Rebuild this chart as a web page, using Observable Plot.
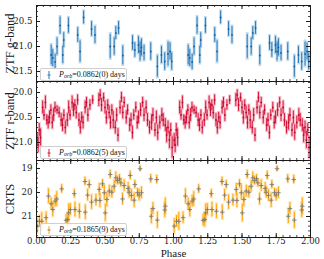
<!DOCTYPE html>
<html><head><meta charset="utf-8">
<script src="https://cdn.jsdelivr.net/npm/d3@7"></script>
<script src="https://cdn.jsdelivr.net/npm/@observablehq/plot@0.6"></script>
<style>
body{margin:0;background:#fff;}
#wrap{position:relative;width:324px;height:259px;overflow:hidden;}
.panel{position:absolute;left:0;}
.leg{position:absolute;left:40px;width:85px;height:11px;border:0.8px solid #cfcfcf;border-radius:2px;background:rgba(255,255,255,0.85);font-family:"Liberation Serif",serif;font-size:8px;line-height:11px;color:#111;white-space:nowrap;}
.leg svg{position:absolute;left:5px;top:1px;}
.leg span.t{position:absolute;left:18px;top:0;}
</style></head>
<body><div id="wrap"></div>
<script>
// ZTF g-band (phase 0-1, plotted twice)
const gPhase=[0.107,0.119,0.136,0.150,0.172,0.192,0.199,0.233,0.301,0.318,0.344,0.402,0.427,0.538,0.567,0.579,0.599,0.630,0.701,0.718,0.744,0.756,0.766,0.785,0.834,0.882,0.912,0.936,0.960,0.975,0.987];
const gMag=[21.17,21.23,21.31,21.00,20.58,21.17,20.87,20.58,20.77,21.10,20.42,20.65,20.77,21.00,21.00,20.73,20.63,21.18,20.93,21.07,20.97,21.10,21.02,21.13,21.10,21.40,21.17,21.30,21.15,21.10,21.30];
const gErr=[0.23,0.20,0.18,0.20,0.20,0.20,0.17,0.18,0.17,0.25,0.15,0.17,0.20,0.28,0.20,0.15,0.15,0.22,0.17,0.17,0.20,0.22,0.20,0.18,0.20,0.25,0.20,0.20,0.28,0.20,0.20];
// ZTF r-band
const rPhase=[0.005,0.012,0.02,0.03,0.045,0.055,0.065,0.075,0.085,0.095,0.105,0.115,0.125,0.135,0.15,0.165,0.18,0.19,0.2,0.21,0.225,0.235,0.245,0.26,0.27,0.28,0.29,0.3,0.31,0.32,0.33,0.34,0.355,0.365,0.375,0.39,0.41,0.455,0.465,0.475,0.49,0.5,0.51,0.52,0.53,0.54,0.55,0.56,0.575,0.585,0.595,0.61,0.62,0.63,0.64,0.655,0.665,0.68,0.69,0.7,0.71,0.725,0.735,0.745,0.76,0.775,0.785,0.8,0.81,0.825,0.84,0.85,0.865,0.875,0.885,0.9,0.915,0.925,0.94,0.95,0.96,0.97,0.98,0.99];
const rMag=[20.95,21.05,20.75,20.9,20.3,20.45,20.2,20.55,20.6,20.5,20.35,20.6,20.45,20.3,20.35,20.4,20.55,20.65,20.45,20.7,20.55,20.3,20.45,20.2,20.35,20.25,20.4,20.15,20.55,20.7,20.5,20.6,20.3,20.2,20.45,20.25,20.15,20.15,20.05,20.25,20.1,20.3,20.5,20.25,20.4,20.6,20.35,20.55,20.7,20.45,20.85,20.3,20.1,20.4,20.2,20.5,20.35,20.65,20.55,20.8,20.45,20.3,20.6,20.5,20.35,20.2,20.45,20.3,20.55,20.7,20.6,20.45,20.75,20.5,20.8,20.6,20.45,20.55,20.65,20.85,20.7,20.95,20.75,21.1];
const rErr=[0.15,0.18,0.15,0.2,0.15,0.12,0.15,0.12,0.15,0.15,0.12,0.15,0.15,0.12,0.1,0.12,0.15,0.15,0.12,0.15,0.15,0.15,0.12,0.15,0.15,0.12,0.15,0.12,0.15,0.15,0.12,0.15,0.15,0.12,0.15,0.12,0.1,0.15,0.12,0.15,0.1,0.15,0.15,0.12,0.15,0.15,0.12,0.2,0.15,0.15,0.15,0.15,0.12,0.15,0.12,0.15,0.12,0.15,0.15,0.15,0.12,0.12,0.15,0.15,0.15,0.12,0.15,0.15,0.15,0.15,0.18,0.15,0.15,0.15,0.18,0.15,0.15,0.15,0.15,0.18,0.15,0.2,0.15,0.25];
// CRTS
const cPhase=[0.005,0.022,0.039,0.070,0.087,0.107,0.119,0.136,0.148,0.184,0.216,0.228,0.235,0.247,0.276,0.281,0.313,0.354,0.356,0.373,0.385,0.402,0.434,0.458,0.463,0.482,0.495,0.502,0.514,0.531,0.538,0.550,0.567,0.579,0.592,0.606,0.616,0.628,0.640,0.669,0.676,0.684,0.693,0.713,0.718,0.737,0.749,0.756,0.766,0.834,0.838,0.850,0.878,0.882,0.936,0.940];
const cMag=[21.40,21.20,21.20,21.05,20.15,20.47,20.71,20.36,20.27,19.85,21.16,21.13,20.85,20.71,20.05,20.71,20.78,19.54,20.82,20.11,19.67,20.40,20.32,19.87,20.33,19.64,20.01,20.85,20.29,19.94,19.25,19.99,19.74,19.39,19.50,19.43,19.60,20.27,19.71,19.83,19.99,19.29,20.12,20.32,19.67,20.01,20.11,19.01,20.01,19.43,20.99,20.67,19.46,21.15,20.73,20.57];
const cErr=[0.35,0.28,0.42,0.28,0.35,0.28,0.35,0.28,0.35,0.21,0.28,0.35,0.42,0.28,0.21,0.35,0.35,0.21,0.35,0.28,0.21,0.35,0.28,0.28,0.35,0.21,0.35,0.42,0.35,0.28,0.21,0.28,0.28,0.28,0.21,0.21,0.21,0.28,0.28,0.28,0.28,0.21,0.28,0.35,0.21,0.21,0.28,0.14,0.28,0.21,0.36,0.29,0.21,0.39,0.36,0.39];

const xMajor=[0,0.25,0.5,0.75,1,1.25,1.5,1.75,2];
const gTicks=[20.5,21.0,21.5], rTicks=[20.0,20.5,21.0], cTicks=[19,20,21];
const labels=["ZTF g-band","ZTF r-band","CRTS"];
const legendText=["0.0862(0)","0.0862(5)","0.1865(9)"];

function fold(ph,mag,err){const out=[];for(const k of [0,1])ph.forEach((p,i)=>out.push({phase:p+k,mag:mag[i],err:err[i]}));return out;}

const W=324, ML=36, MR=14, FW=W-ML-MR;
const xMinor=d3.range(0,2.0001,0.05);
const ink="#1a1a1a";

function panel({rows,domain,major,minorStep,top,height,mt,mb,dark,light,mcol,label,showX,symbol,fmt}){
  const fh=height-mt-mb;
  const yMinor=d3.range(Math.ceil(Math.min(...domain)/minorStep)*minorStep,Math.max(...domain),minorStep);
  const marks=[
    Plot.ruleX(rows,{x:"phase",y1:d=>d.mag-d.err,y2:d=>d.mag+d.err,stroke:light,strokeWidth:3,strokeOpacity:0.55,clip:true}),
    Plot.ruleX(rows,{x:"phase",y1:d=>d.mag-d.err*0.85,y2:d=>d.mag+d.err*0.85,stroke:dark,strokeWidth:1,clip:true}),
    symbol ? Plot.dot(rows,{x:"phase",y:"mag",symbol:"plus",r:1.6,stroke:mcol,strokeWidth:0.9,clip:true})
           : Plot.dot(rows,{x:"phase",y:"mag",r:0.9,fill:mcol,clip:true}),
    Plot.ruleX(xMajor,{x:d=>d,insetTop:fh-4,stroke:ink}),
    Plot.ruleX(xMajor,{x:d=>d,insetBottom:fh-4,stroke:ink}),
    Plot.ruleX(xMinor,{x:d=>d,insetTop:fh-2,stroke:ink,strokeWidth:0.8}),
    Plot.ruleX(xMinor,{x:d=>d,insetBottom:fh-2,stroke:ink,strokeWidth:0.8}),
    Plot.ruleY(major,{y:d=>d,insetRight:FW-4,stroke:ink}),
    Plot.ruleY(major,{y:d=>d,insetLeft:FW-4,stroke:ink}),
    Plot.ruleY(yMinor,{y:d=>d,insetRight:FW-2,stroke:ink,strokeWidth:0.8}),
    Plot.ruleY(yMinor,{y:d=>d,insetLeft:FW-2,stroke:ink,strokeWidth:0.8}),
    Plot.axisY(major,{anchor:"left",tickSize:0,tickPadding:4,tickFormat:d3.format(fmt),fontSize:8.6,fontFamily:"DejaVu Serif",label:null,fill:ink}),
    Plot.text([label],{frameAnchor:"left",dx:-27,rotate:-90,textAnchor:"middle",lineAnchor:"middle",fontFamily:"Liberation Serif",fontSize:12.5,fill:ink}),
    Plot.frame({stroke:ink,strokeWidth:1})
  ];
  if(showX){
    marks.push(Plot.axisX(xMajor,{anchor:"bottom",tickSize:0,tickPadding:0,tickFormat:d3.format(".2f"),fontSize:8.5,fontFamily:"DejaVu Serif",label:null,fill:ink}));
    marks.push(Plot.text(["Phase"],{frameAnchor:"bottom",dy:16,textAnchor:"middle",lineAnchor:"middle",fontFamily:"Liberation Serif",fontSize:11,fill:ink}));
  }
  const svg=Plot.plot({width:W,height,marginLeft:ML,marginRight:MR,marginTop:mt,marginBottom:mb,
    x:{domain:[0,2],axis:null},y:{domain,axis:null},style:{overflow:"visible",background:"transparent"},marks});
  const div=document.createElement("div");div.className="panel";div.style.top=top+"px";div.appendChild(svg);
  return div;
}

const wrap=document.getElementById("wrap");
wrap.appendChild(panel({rows:fold(gPhase,gMag,gErr),domain:[21.7,20.18],major:gTicks,minorStep:0.1,top:0,height:82,mt:5,mb:1,dark:"#2a78b8",light:"#8fbfe0",mcol:"#1f5f99",label:labels[0],fmt:".1f"}));
wrap.appendChild(panel({rows:fold(rPhase,rMag,rErr),domain:[21.36,19.78],major:rTicks,minorStep:0.1,top:81,height:80,mt:0,mb:1,dark:"#dc143c",light:"#ee8ea3",mcol:"#b0102f",label:labels[1],fmt:".1f"}));
wrap.appendChild(panel({rows:fold(cPhase,cMag,cErr),domain:[21.875,18.667],major:cTicks,minorStep:0.2,top:160,height:99,mt:0,mb:22,dark:"#ffa500",light:"#ffcf7a",mcol:"#7a7a7a",label:labels[2],showX:true,symbol:true,fmt:"d"}));

const legTops=[68,146,223];
legTops.forEach((t,i)=>{
  const d=document.createElement("div");d.className="leg";d.style.top=t+"px";
  const col=["#2a78b8","#dc143c","#ffa500"][i];
  d.innerHTML=`<svg width="6" height="10"><line x1="3" x2="3" y1="1" y2="9" stroke="${col}" stroke-width="1"/><line x1="1.5" x2="4.5" y1="5" y2="5" stroke="${i==2?'#7a7a7a':col}" stroke-width="1"/></svg><span class="t"><i>P</i><sub style="font-size:6px;vertical-align:-1px"><i>orb</i></sub>=${legendText[i]} days</span>`;
  wrap.appendChild(d);
});
</script></body></html>
